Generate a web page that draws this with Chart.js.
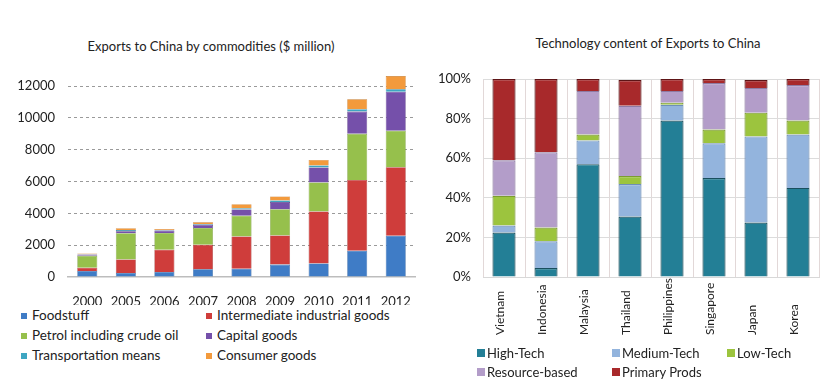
<!DOCTYPE html>
<html>
<head>
<meta charset="utf-8">
<script src="https://cdn.jsdelivr.net/npm/chart.js@4.4.1/dist/chart.umd.min.js"></script>
<style>
  body { margin: 0; background: #fff; font-family: Lato, "Open Sans", sans-serif; color: #222; }
  #wrap { position: relative; width: 830px; height: 379px; overflow: hidden; }
  canvas { position: absolute; top: 0; }
  .title { position: absolute; font-size: 13px; white-space: nowrap; transform: translate(-50%, -50%); }
  .leg { position: absolute; white-space: nowrap; transform: translateY(-50%); }
  .leg i { display: inline-block; vertical-align: 1px; }
</style>
</head>
<body>
<div id="wrap">
  <div class="title" style="left:211px; top:46px;">Exports to China by commodities ($ million)</div>
  <div class="title" style="left:648px; top:43px;">Technology content of Exports to China</div>
  <canvas id="leftChart" width="420" height="305" style="left:0; width:420px; height:305px;"></canvas>
  <canvas id="rightChart" width="410" height="350" style="left:420px; width:410px; height:350px;"></canvas>
</div>
<script>
// left chart: exports by commodity ($ million)
const years = ['2000', '2005', '2006', '2007', '2008', '2009', '2010', '2011', '2012'];
const foodstuff = [380, 250, 320, 480, 520, 780, 850, 1650, 2600];
const intermediate = [200, 850, 1400, 1550, 2030, 1830, 3270, 4450, 4300];
const petrol = [750, 1650, 1050, 1050, 1300, 1650, 1820, 2900, 2300];
const capital = [80, 120, 150, 200, 400, 450, 950, 1400, 2450];
const transport = [20, 80, 30, 50, 80, 100, 120, 150, 150];
const consumer = [50, 120, 70, 110, 250, 250, 350, 620, 830];
const leftTicks = [0, 2000, 4000, 6000, 8000, 10000, 12000];

// right chart: technology content (%)
const countries = ['Vietnam', 'Indonesia', 'Malaysia', 'Thailand', 'Philippines', 'Singapore', 'Japan', 'Korea'];
const highTech = [22.5, 4.5, 57, 30.5, 79, 50, 27.5, 45];
const mediumTech = [3.5, 13.5, 12, 16.5, 8, 17.5, 43.5, 27];
const lowTech = [15, 7, 3, 4, 1, 7, 12, 7];
const resourceBased = [18, 38, 22, 35.5, 6, 23.5, 12.5, 18];
const primaryProds = [41, 37, 6, 13, 6, 2, 4, 3];
const rightTicks = [0, 20, 40, 60, 80, 100];

const FONT = 'Lato';

const leftSets = [
  { label: 'Foodstuff', data: foodstuff, backgroundColor: '#3f7cc6', borderColor: '#2f5f9a' },
  { label: 'Intermediate industrial goods', data: intermediate, backgroundColor: '#cf3d3b', borderColor: '#9e2c2a' },
  { label: 'Petrol including crude oil', data: petrol, backgroundColor: '#96c04c', borderColor: '#76983a' },
  { label: 'Capital goods', data: capital, backgroundColor: '#7550aa', borderColor: '#5a3c85' },
  { label: 'Transportation means', data: transport, backgroundColor: '#3ea6c2', borderColor: '#2e8199' },
  { label: 'Consumer goods', data: consumer, backgroundColor: '#f39a3c', borderColor: '#c77a2a' }
];

new Chart(document.getElementById('leftChart'), {
  type: 'bar',
  data: {
    labels: years,
    datasets: leftSets.map(s => Object.assign({ borderWidth: 0.6, barPercentage: 0.52, categoryPercentage: 1 }, s))
  },
  options: {
    responsive: false,
    animation: false,
    layout: { padding: { left: 0, right: 3, top: 75, bottom: 0 } },
    plugins: { legend: { display: false }, tooltip: { enabled: false } },
    scales: {
      x: {
        stacked: true,
        grid: { display: false },
        border: { display: true, color: '#bdbdbd', width: 1.5 },
        ticks: { color: '#222', font: { family: FONT, size: 13 }, padding: 9 },
        afterFit: s => { s.height = 28; }
      },
      y: {
        stacked: true,
        min: 0,
        max: 12700,
        afterBuildTicks: s => { s.ticks = leftTicks.map(v => ({ value: v })); },
        grid: { color: c => c.tick && c.tick.value === 0 ? 'rgba(0,0,0,0)' : '#9a9a9a', drawTicks: false, lineWidth: 1 },
        border: { display: false, dash: [3, 3] },
        ticks: { color: '#222', font: { family: FONT, size: 13 }, padding: 13, callback: v => String(v) },
        afterFit: s => { s.width = 68; }
      }
    }
  }
});

const rightSets = [
  { label: 'High-Tech', data: highTech, backgroundColor: '#237f96', borderColor: '#1a4f5e' },
  { label: 'Medium-Tech', data: mediumTech, backgroundColor: '#93b4dd', borderColor: '#6f8fb8' },
  { label: 'Low-Tech', data: lowTech, backgroundColor: '#9cc43e', borderColor: '#7c9c30' },
  { label: 'Resource-based', data: resourceBased, backgroundColor: '#b39dc9', borderColor: '#8e7aa3' },
  { label: 'Primary Prods', data: primaryProds, backgroundColor: '#a8292b', borderColor: '#5e1416' }
];

// rotated country names, anchored at the bottom and reading upwards
const countryLabels = {
  id: 'countryLabels',
  afterDraw(chart) {
    const { ctx } = chart;
    const x = chart.scales.x;
    ctx.save();
    ctx.font = '12px ' + FONT;
    ctx.fillStyle = '#222';
    ctx.textAlign = 'left';
    ctx.textBaseline = 'middle';
    chart.data.labels.forEach((lab, i) => {
      ctx.save();
      ctx.translate(x.getPixelForTick(i) - 4, 335);
      ctx.rotate(-Math.PI / 2);
      ctx.fillText(lab, 0, 0);
      ctx.restore();
    });
    ctx.restore();
  }
};

new Chart(document.getElementById('rightChart'), {
  type: 'bar',
  data: {
    labels: countries,
    datasets: rightSets.map(s => Object.assign({ borderWidth: 1.2, barPercentage: 0.55, categoryPercentage: 1 }, s))
  },
  options: {
    responsive: false,
    animation: false,
    layout: { padding: { left: 0, right: 11, top: 79, bottom: 0 } },
    plugins: { legend: { display: false }, tooltip: { enabled: false } },
    scales: {
      x: {
        stacked: true,
        grid: { color: '#e2d8d8', drawTicks: false },
        border: { display: true, color: '#d8d8d8' },
        ticks: { display: false },
        afterFit: s => { s.height = 73; }
      },
      y: {
        stacked: true,
        min: 0,
        max: 100,
        afterBuildTicks: s => { s.ticks = rightTicks.map(v => ({ value: v })); },
        grid: { color: '#dcdcdc', drawTicks: false },
        border: { display: false },
        ticks: { color: '#222', font: { family: FONT, size: 13 }, padding: 12, callback: v => v + '%' },
        afterFit: s => { s.width = 63; }
      }
    }
  },
  plugins: [countryLabels]
});

// legends (html), positions follow the reference layout
function legend(items, spots, boxW, gap, size) {
  const wrap = document.getElementById('wrap');
  items.forEach((s, i) => {
    const d = document.createElement('div');
    d.className = 'leg';
    d.style.left = spots[i][0] + 'px';
    d.style.top = spots[i][1] + 'px';
    d.style.fontSize = size + 'px';
    const box = document.createElement('i');
    box.style.background = s.backgroundColor;
    box.style.width = boxW + 'px';
    box.style.height = boxW + 'px';
    box.style.marginRight = gap + 'px';
    d.appendChild(box);
    d.appendChild(document.createTextNode(s.label));
    wrap.appendChild(d);
  });
}
legend(leftSets, [[21, 315], [206, 315], [21, 335], [206, 335], [21, 355], [206, 355]], 6, 5, 13.5);
legend(rightSets, [[477, 353], [612, 353], [727, 353], [477, 372], [612, 372]], 8, 2, 13);
</script>
</body>
</html>
